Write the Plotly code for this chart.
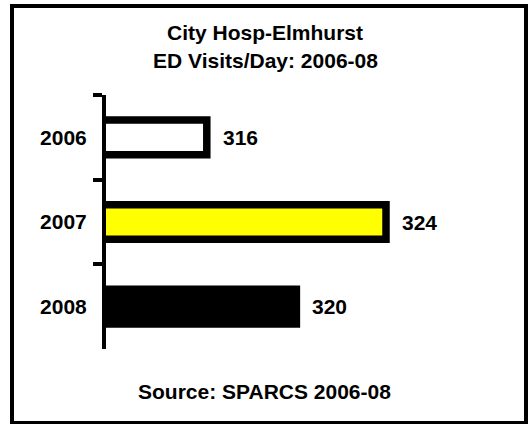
import plotly.graph_objects as go

years = ["2006", "2007", "2008"]
visits = [316, 324, 320]
fill_colors = ["#FFFFFF", "#FFFF00", "#000000"]
title_lines = ["City Hosp-Elmhurst", "ED Visits/Day: 2006-08"]
source_text = "Source: SPARCS 2006-08"

W, H = 530, 424
ML, MR, MT, MB = 106, 58, 95, 75
PW, PH = W - ML - MR, H - MT - MB

def px_x(p):
    return (p - ML) / PW

def px_y(p):
    return (H - MB - p) / PH

FONT = "Liberation Sans, Arial, sans-serif"
FS = 21

fig = go.Figure()
fig.add_trace(go.Bar(
    y=years, x=visits, orientation="h",
    marker=dict(color=fill_colors, line=dict(color="black", width=7.5)),
    width=0.41, showlegend=False, hoverinfo="skip",
))

annotations = []
for i, v in enumerate(visits):
    annotations.append(dict(
        x=v, y=i, xref="x", yref="y", text=f"<b>{v}</b>", showarrow=False,
        xanchor="left", yanchor="middle", xshift=14,
        font=dict(family=FONT, size=FS, color="black"),
    ))
for txt, ypx in zip(title_lines, [32.5, 60]):
    annotations.append(dict(
        x=px_x(265), y=px_y(ypx), xref="paper", yref="paper", text=f"<b>{txt}</b>",
        showarrow=False, xanchor="center", yanchor="middle",
        font=dict(family=FONT, size=FS, color="black"),
    ))
annotations.append(dict(
    x=px_x(264), y=px_y(391), xref="paper", yref="paper", text=f"<b>{source_text}</b>",
    showarrow=False, xanchor="center", yanchor="middle",
    font=dict(family=FONT, size=FS, color="black"),
))

fig.update_layout(
    width=W, height=H,
    margin=dict(l=ML, r=MR, t=MT, b=MB, pad=0),
    paper_bgcolor="white", plot_bgcolor="white",
    xaxis=dict(visible=False, range=[311.5, 311.5 + PW / 22.4], fixedrange=True),
    yaxis=dict(
        type="category", range=[2.5, -0.5], fixedrange=True,
        showline=True, linecolor="black", linewidth=4,
        ticks="outside", tickson="boundaries", ticklen=9, tickwidth=4, tickcolor="black",
        showgrid=False, zeroline=False, ticklabelstandoff=11,
        tickfont=dict(family=FONT, size=FS, color="black"),
        tickprefix="<b>", ticksuffix="</b>",
    ),
    annotations=annotations,
    shapes=[dict(
        type="rect", xref="paper", yref="paper",
        x0=px_x(12), x1=px_x(526), y0=px_y(6), y1=px_y(423),
        line=dict(color="black", width=4), fillcolor="rgba(0,0,0,0)", layer="above",
    )],
)

fig.write_html(
    "out.html",
    config={"displayModeBar": False, "staticPlot": True},
    post_script="document.body.style.margin='0';document.body.style.overflow='hidden';",
)
